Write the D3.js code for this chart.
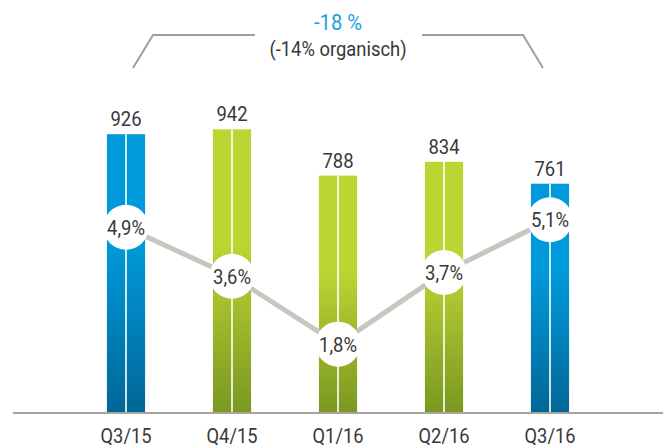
<!DOCTYPE html>
<html>
<head>
<meta charset="utf-8">
<script src="https://cdn.jsdelivr.net/npm/d3@7/dist/d3.min.js"></script>
<style>
  html, body { margin: 0; padding: 0; background: #fff; }
  svg { display: block; }
  text { font-family: Roboto, "Noto Sans", sans-serif; fill: #383838; }
</style>
</head>
<body>
<svg id="chart" width="663" height="448"></svg>
<script>
// ---- data ----
const categories = ["Q3/15", "Q4/15", "Q1/16", "Q2/16", "Q3/16"];
const revenue = [926, 942, 788, 834, 761];
const margins = [4.9, 3.6, 1.8, 3.7, 5.1];
const marginLabels = ["4,9%", "3,6%", "1,8%", "3,7%", "5,1%"];
const changeLabel = "-18 %";
const changeSubLabel = "(-14% organisch)";

// ---- layout ----
const baseY = 412;
const svg = d3.select("#chart");

const x = d3.scaleBand()
  .domain(categories)
  .range([73, 603])
  .paddingInner(0.64)
  .paddingOuter(0.32);

const y = d3.scaleLinear().domain([0, 1000]).range([baseY, 112]);
const yPct = d3.scaleLinear().domain([0, 10]).range([baseY, 35]);

const isBlue = c => c.startsWith("Q3");

// gradients
const defs = svg.append("defs");
function grad(id, top, bottom) {
  const g = defs.append("linearGradient").attr("id", id)
    .attr("x1", 0).attr("y1", 0).attr("x2", 0).attr("y2", 1);
  g.append("stop").attr("offset", "0%").attr("stop-color", top);
  g.append("stop").attr("offset", "40%").attr("stop-color", top);
  g.append("stop").attr("offset", "100%").attr("stop-color", bottom);
}
grad("gBlue", "#0099d9", "#006797");
grad("gGreen", "#bdd532", "#7a9822");

const data = categories.map((c, i) => ({ c, v: revenue[i], m: margins[i], ml: marginLabels[i] }));
const cx = d => x(d.c) + x.bandwidth() / 2;

// bars
svg.append("g").selectAll("rect").data(data).join("rect")
  .attr("x", d => x(d.c))
  .attr("y", d => y(d.v))
  .attr("width", x.bandwidth())
  .attr("height", d => baseY - y(d.v))
  .attr("fill", d => isBlue(d.c) ? "url(#gBlue)" : "url(#gGreen)");

// white center lines
svg.append("g").selectAll("line").data(data).join("line")
  .attr("x1", cx)
  .attr("x2", cx)
  .attr("y1", d => y(d.v))
  .attr("y2", baseY)
  .attr("stroke", "#fff")
  .attr("stroke-opacity", 0.8)
  .attr("stroke-width", 2);

// axis baseline
svg.append("line")
  .attr("x1", 13).attr("x2", 663)
  .attr("y1", baseY + 1).attr("y2", baseY + 1)
  .attr("stroke", "#a8a49b").attr("stroke-width", 2);

// category labels
const xAxis = d3.axisBottom(x).tickSize(0).tickPadding(0);
const ax = svg.append("g").attr("transform", `translate(0,${baseY})`).call(xAxis);
ax.select(".domain").remove();
ax.selectAll("text")
  .attr("dy", null)
  .attr("y", 31)
  .attr("transform", "scale(0.87,1)")
  .style("font-size", "21px")
  .style("fill", "#383838")
  .style("font-family", "Roboto, sans-serif");

// value labels
svg.append("g").selectAll("text").data(data).join("text")
  .attr("transform", d => `translate(${cx(d)},${y(d.v) - 8}) scale(0.9,1)`)
  .attr("text-anchor", "middle")
  .style("font-size", "20.5px")
  .text(d => d3.format("d")(d.v));

// margin line
svg.append("path").datum(data)
  .attr("d", d3.line().x(cx).y(d => yPct(d.m)))
  .attr("fill", "none")
  .attr("stroke", "#c9c6bf")
  .attr("stroke-width", 5);

// circles
svg.append("g").selectAll("circle").data(data).join("circle")
  .attr("cx", cx)
  .attr("cy", d => yPct(d.m))
  .attr("r", 22.5)
  .attr("fill", "#fff");

svg.append("g").selectAll("text").data(data).join("text")
  .attr("transform", d => `translate(${cx(d)},${yPct(d.m) + 7.5}) scale(0.9,1)`)
  .attr("text-anchor", "middle")
  .style("font-size", "20.5px")
  .text(d => d.ml);

// top annotation bracket
const xl = cx(data[0]), xr = cx(data[data.length - 1]);
const mid = (xl + xr) / 2;
const br = svg.append("g").attr("fill", "none").attr("stroke", "#a39d93").attr("stroke-width", 2);
br.append("polyline").attr("points", `${xl + 7},68 ${xl + 27},35 ${mid - 83},35`);
br.append("polyline").attr("points", `${mid + 84},35 ${xr - 27},35 ${xr - 7},68`);

svg.append("text")
  .attr("transform", `translate(${mid},30) scale(0.92,1)`)
  .attr("text-anchor", "middle")
  .style("font-size", "22px")
  .style("fill", "#1ba1e2")
  .text(changeLabel);

svg.append("text")
  .attr("transform", `translate(${mid},56) scale(0.92,1)`)
  .attr("text-anchor", "middle")
  .style("font-size", "20px")
  .text(changeSubLabel);
</script>
</body>
</html>
